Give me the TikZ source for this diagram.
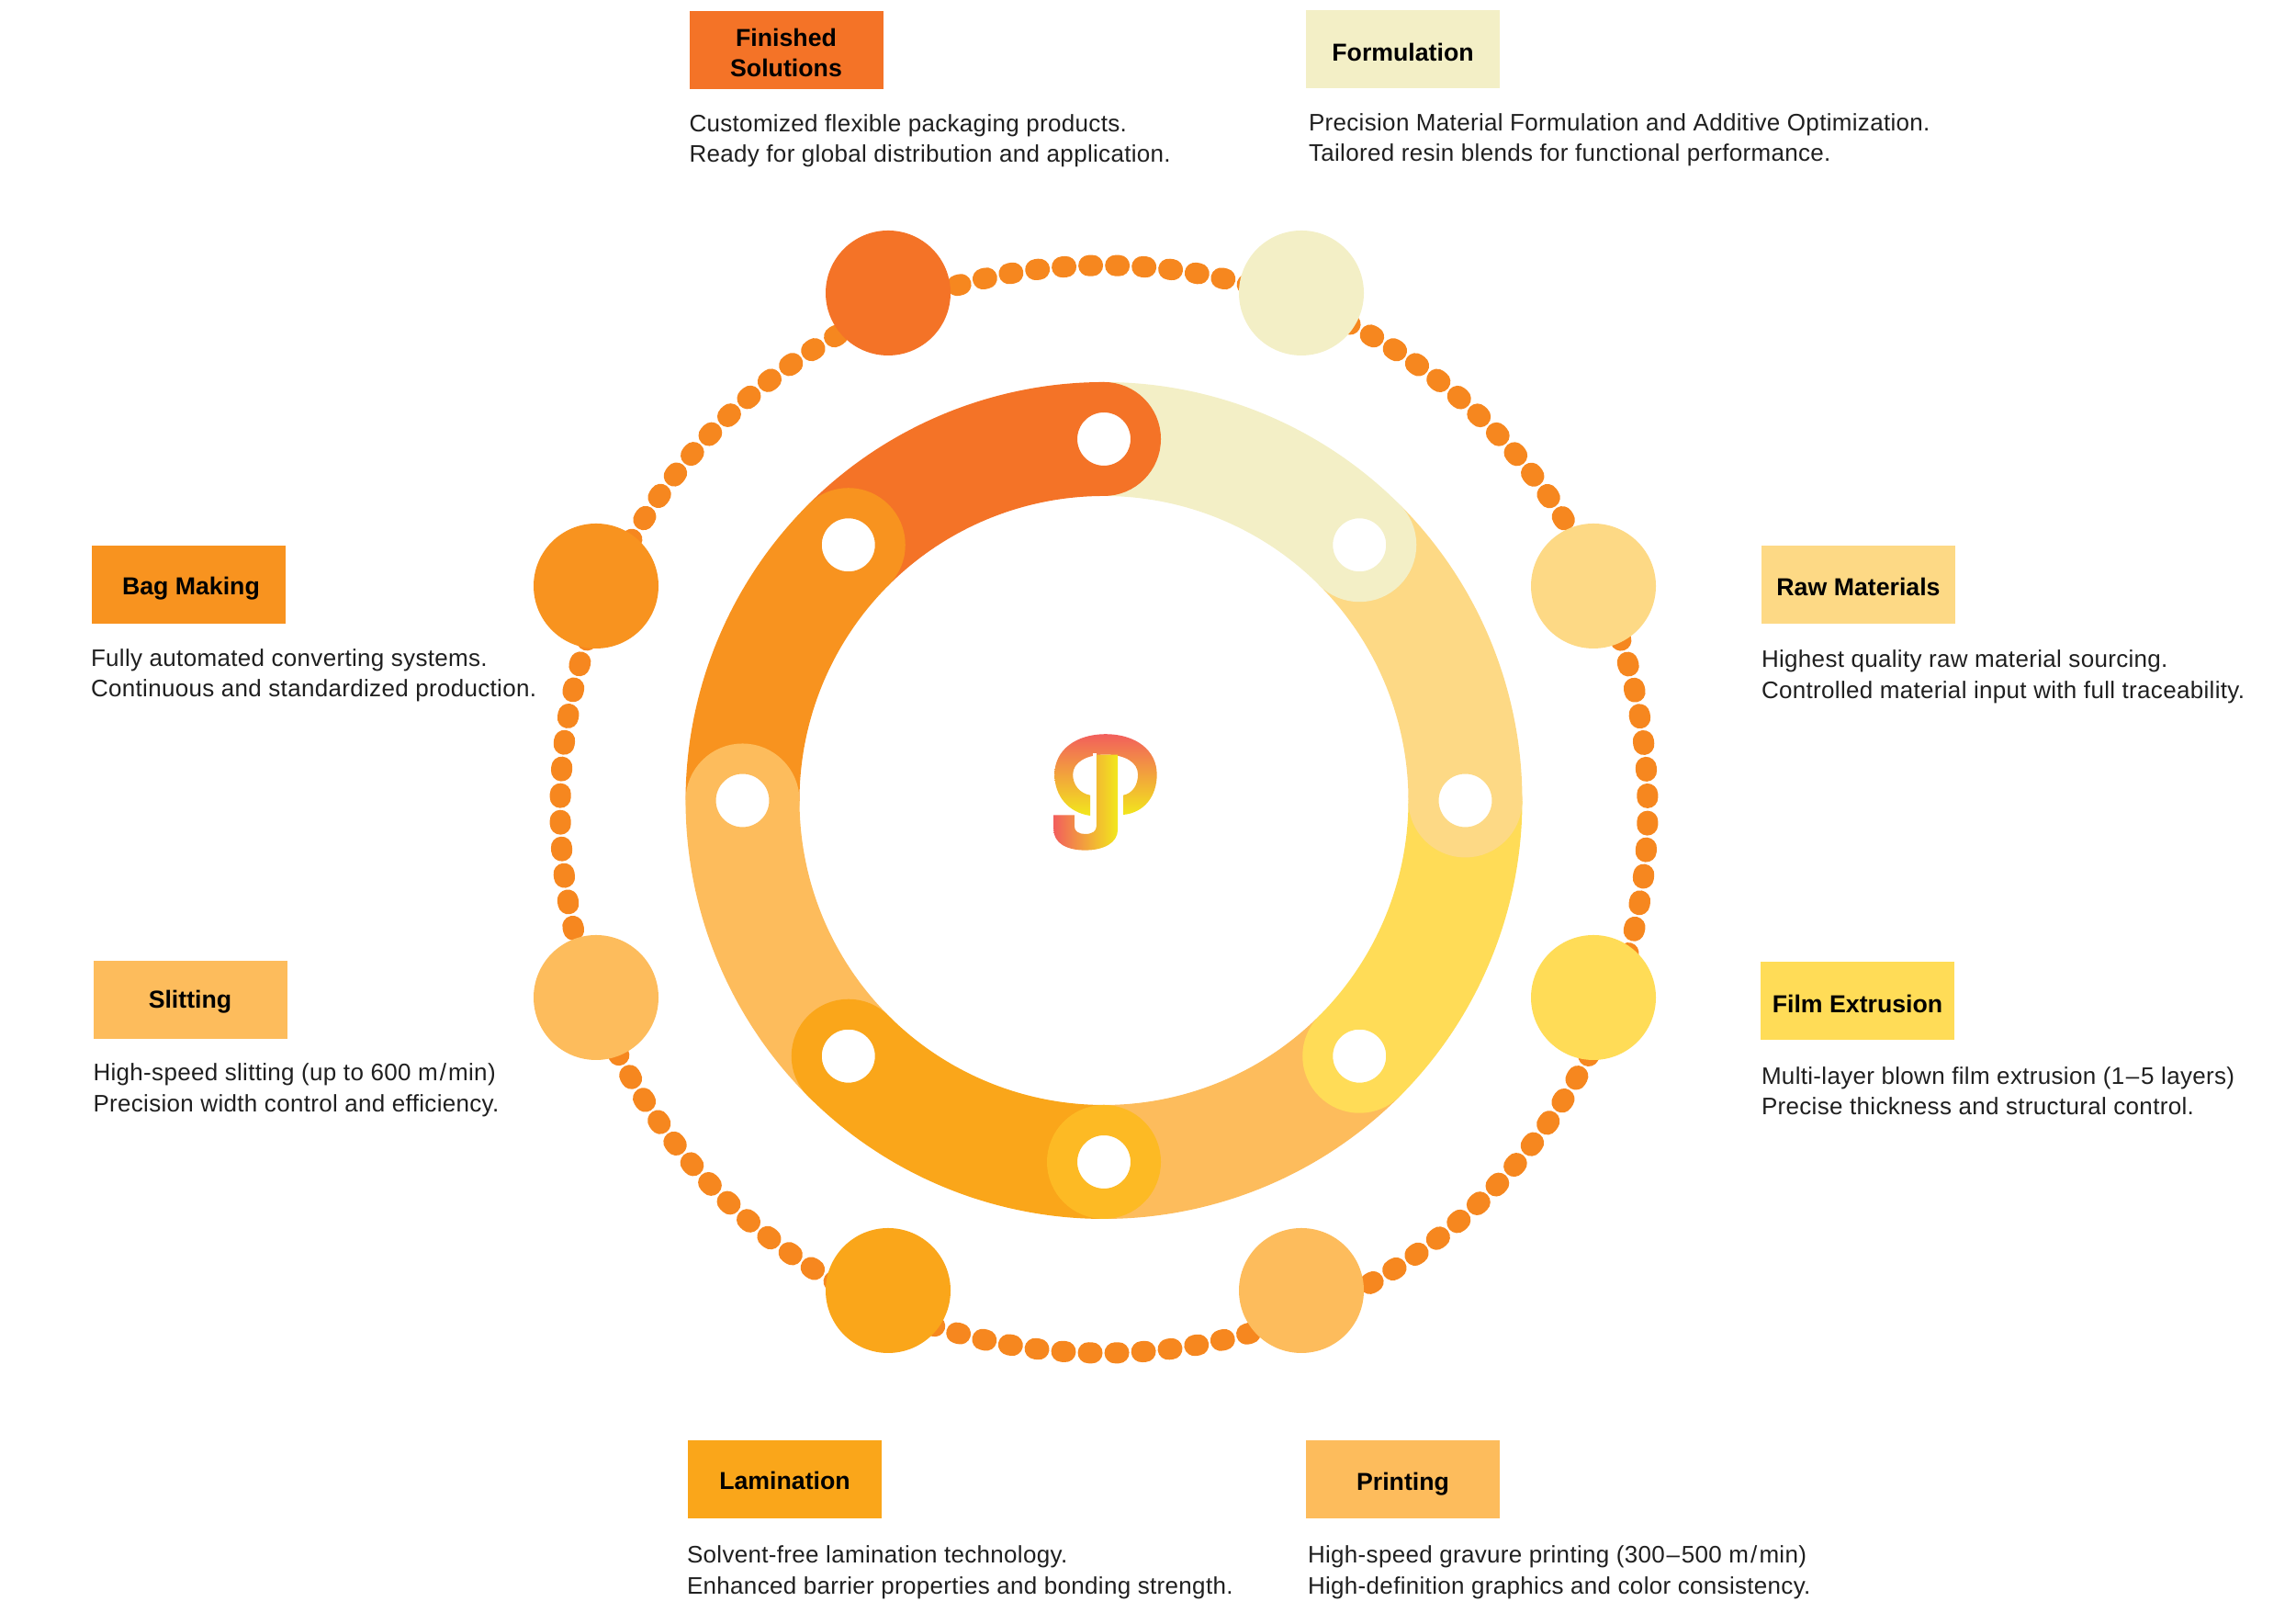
\documentclass[tikz,border=0pt]{standalone}
\usepackage{fontspec}
\setmainfont{Liberation Sans}
\newfontfamily\descfont[LetterSpace=1.2]{Liberation Sans}
\usepackage{xcolor}
\usepackage{tikz}
\usetikzlibrary{positioning}
\definecolor{finclr}{HTML}{F47327}
\definecolor{frmclr}{HTML}{F3EFC6}
\definecolor{rawclr}{HTML}{FDD985}
\definecolor{filclr}{HTML}{FFDC57}
\definecolor{prtclr}{HTML}{FDBC5C}
\definecolor{lamclr}{HTML}{FAA61A}
\definecolor{sliclr}{HTML}{FDBC5C}
\definecolor{bagclr}{HTML}{F8931F}
\definecolor{jntclr}{HTML}{FDBA24}
\definecolor{dotclr}{HTML}{F6871F}
\definecolor{logored}{HTML}{F25F5C}
\definecolor{logoyel}{HTML}{F2E81C}
\newcommand{\titlelift}[1]{\rule{0pt}{#1pt}}
\newcommand{\mpermin}{m\kern0.6pt/\kern0.6pt min}
\newcommand{\rangedash}{\kern0.5pt–\kern0.5pt}
\tikzset{
    stagebox/.style={rectangle, inner sep=0pt, minimum width=2.11cm, minimum height=0.85cm, align=center, font=\bfseries\fontsize{7.6}{9.2}\selectfont},
    stagetext/.style={inner sep=0pt, align=left, text=black!88, font=\descfont\fontsize{7.4}{9.5}\selectfont},
    bigdisc/.style={circle, inner sep=0pt, minimum size=1.36cm},
    ringdisc/.style={circle, inner sep=0pt, minimum size=0.91cm, fill=white, line width=0.33cm},
    ringseg/.style={line width=1.24cm},
    dotring/.style={dotclr, line width=0.23cm, line cap=round, dash pattern=on 0.04cm off 0.2506cm, dash phase=0.165cm},
}
\begin{document}
\begin{tikzpicture}
    \useasboundingbox (0,0) rectangle (25,17.68);
    \coordinate (hub) at (12.02,8.965);
    \coordinate (dothub) at (12.02,8.87);
    % Dotted outer ring
    \draw [dotring] (dothub) circle (5.92);
    % Ring segments
    \draw [ringseg, frmclr] (hub) ++(90:3.935) arc (90:45:3.935);
    \draw [ringseg, rawclr] (hub) ++(45:3.935) arc (45:0:3.935);
    \draw [ringseg, filclr] (hub) ++(0:3.935) arc (0:-45:3.935);
    \draw [ringseg, prtclr] (hub) ++(-45:3.935) arc (-45:-90:3.935);
    \draw [ringseg, lamclr] (hub) ++(-90:3.935) arc (-90:-135:3.935);
    \draw [ringseg, sliclr] (hub) ++(-135:3.935) arc (-135:-180:3.935);
    \draw [ringseg, bagclr] (hub) ++(180:3.935) arc (180:135:3.935);
    \draw [ringseg, finclr] (hub) ++(135:3.935) arc (135:90:3.935);
    % Discs on the ring
    \node [ringdisc, draw=finclr] (rfin) at ([shift={(90:3.935)}]hub) {};
    \node [ringdisc, draw=frmclr] (rfrm) at ([shift={(45:3.935)}]hub) {};
    \node [ringdisc, draw=rawclr] (rraw) at ([shift={(0:3.935)}]hub) {};
    \node [ringdisc, draw=filclr] (rfil) at ([shift={(-45:3.935)}]hub) {};
    \node [ringdisc, draw=jntclr] (rprt) at ([shift={(-90:3.935)}]hub) {};
    \node [ringdisc, draw=lamclr] (rlam) at ([shift={(-135:3.935)}]hub) {};
    \node [ringdisc, draw=sliclr] (rsli) at ([shift={(180:3.935)}]hub) {};
    \node [ringdisc, draw=bagclr] (rbag) at ([shift={(135:3.935)}]hub) {};
    % Big discs
    \node [bigdisc, fill=finclr] (dfin) at (9.67,14.49) {};
    \node [bigdisc, fill=frmclr] (dfrm) at (14.17,14.49) {};
    \node [bigdisc, fill=rawclr] (draw) at (17.35,11.30) {};
    \node [bigdisc, fill=filclr] (dfil) at (17.35,6.82) {};
    \node [bigdisc, fill=prtclr] (dprt) at (14.17,3.63) {};
    \node [bigdisc, fill=lamclr] (dlam) at (9.67,3.63) {};
    \node [bigdisc, fill=sliclr] (dsli) at (6.49,6.82) {};
    \node [bigdisc, fill=bagclr] (dbag) at (6.49,11.30) {};
    % Title boxes
    \node [stagebox, fill=finclr] (bfin) at (8.56,17.13) {\titlelift{6.9}Finished\\Solutions};
    \node [stagebox, fill=frmclr] (bfrm) at (15.275,17.14) {\titlelift{7.3}Formulation};
    \node [stagebox, fill=rawclr] (braw) at (20.235,11.31) {\titlelift{6.4}Raw Materials};
    \node [stagebox, fill=filclr] (bfil) at (20.225,6.785) {\titlelift{7.3}Film Extrusion};
    \node [stagebox, fill=prtclr] (bprt) at (15.275,1.575) {\titlelift{8.2}Printing};
    \node [stagebox, fill=lamclr] (blam) at (8.545,1.575) {\titlelift{6.4}Lamination};
    \node [stagebox, fill=sliclr] (bsli) at (2.07,6.795) {\titlelift{6.9}Slitting};
    \node [stagebox, fill=bagclr] (bbag) at (2.055,11.31) {\titlelift{7.7}\kern1.4pt Bag Making};
    % Descriptions
    \node [stagetext, below=0.255cm of bfin.south west, anchor=north west] (tfin) {Customized flexible packaging products.\\Ready for global distribution and application.};
    \node [stagetext, below=0.255cm of bfrm.south west, anchor=north west, xshift=0.03cm] (tfrm) {Precision Material Formulation and Additive Optimization.\\Tailored resin blends for functional performance.};
    \node [stagetext, below=0.27cm of braw.south west, anchor=north west] (traw) {Highest quality raw material sourcing.\\Controlled material input with full traceability.};
    \node [stagetext, below=0.28cm of bfil.south west, anchor=north west, xshift=0.01cm] (tfil) {Multi-layer blown film extrusion (1\rangedash 5 layers)\\Precise thickness and structural control.};
    \node [stagetext, below=0.285cm of bprt.south west, anchor=north west, xshift=0.02cm] (tprt) {High-speed gravure printing (300\rangedash 500 \mpermin)\\High-definition graphics and color consistency.};
    \node [stagetext, below=0.285cm of blam.south west, anchor=north west, xshift=-0.01cm] (tlam) {Solvent-free lamination technology.\\Enhanced barrier properties and bonding strength.};
    \node [stagetext, below=0.255cm of bsli.south west, anchor=north west] (tsli) {High-speed slitting (up to 600 \mpermin)\\Precision width control and efficiency.};
    \node [stagetext, below=0.255cm of bbag.south west, anchor=north west, xshift=-0.01cm] (tbag) {Fully automated converting systems.\\Continuous and standardized production.};
    % Logo in the middle
    \begin{scope}[shift={(11cm,10.08cm)}, x=0.003333cm, y=-0.003333cm]
        \shade [top color=logored, bottom color=logoyel]
            (262,385) .. controls (190,375) and (145,320) .. (145,250)
            .. controls (145,170) and (215,118) .. (312,118)
            .. controls (410,118) and (480,170) .. (480,250)
            .. controls (480,320) and (440,375) .. (370,382)
            -- (370,318) .. controls (400,312) and (418,285) .. (418,250)
            .. controls (418,210) and (375,185) .. (312,185)
            .. controls (250,185) and (205,210) .. (205,250)
            .. controls (205,285) and (228,312) .. (262,318) -- cycle;
        \fill [white] (272,180) rectangle (282,250);
        \shade [left color=logored, right color=logoyel]
            (352,185) -- (352,430) .. controls (352,475) and (305,498) .. (245,498)
            .. controls (185,498) and (142,475) .. (142,430)
            -- (142,383) -- (210,383) -- (210,420)
            .. controls (210,436) and (225,445) .. (245,445)
            .. controls (268,445) and (282,436) .. (282,420)
            -- (282,185) -- cycle;
    \end{scope}
\end{tikzpicture}
\end{document}
